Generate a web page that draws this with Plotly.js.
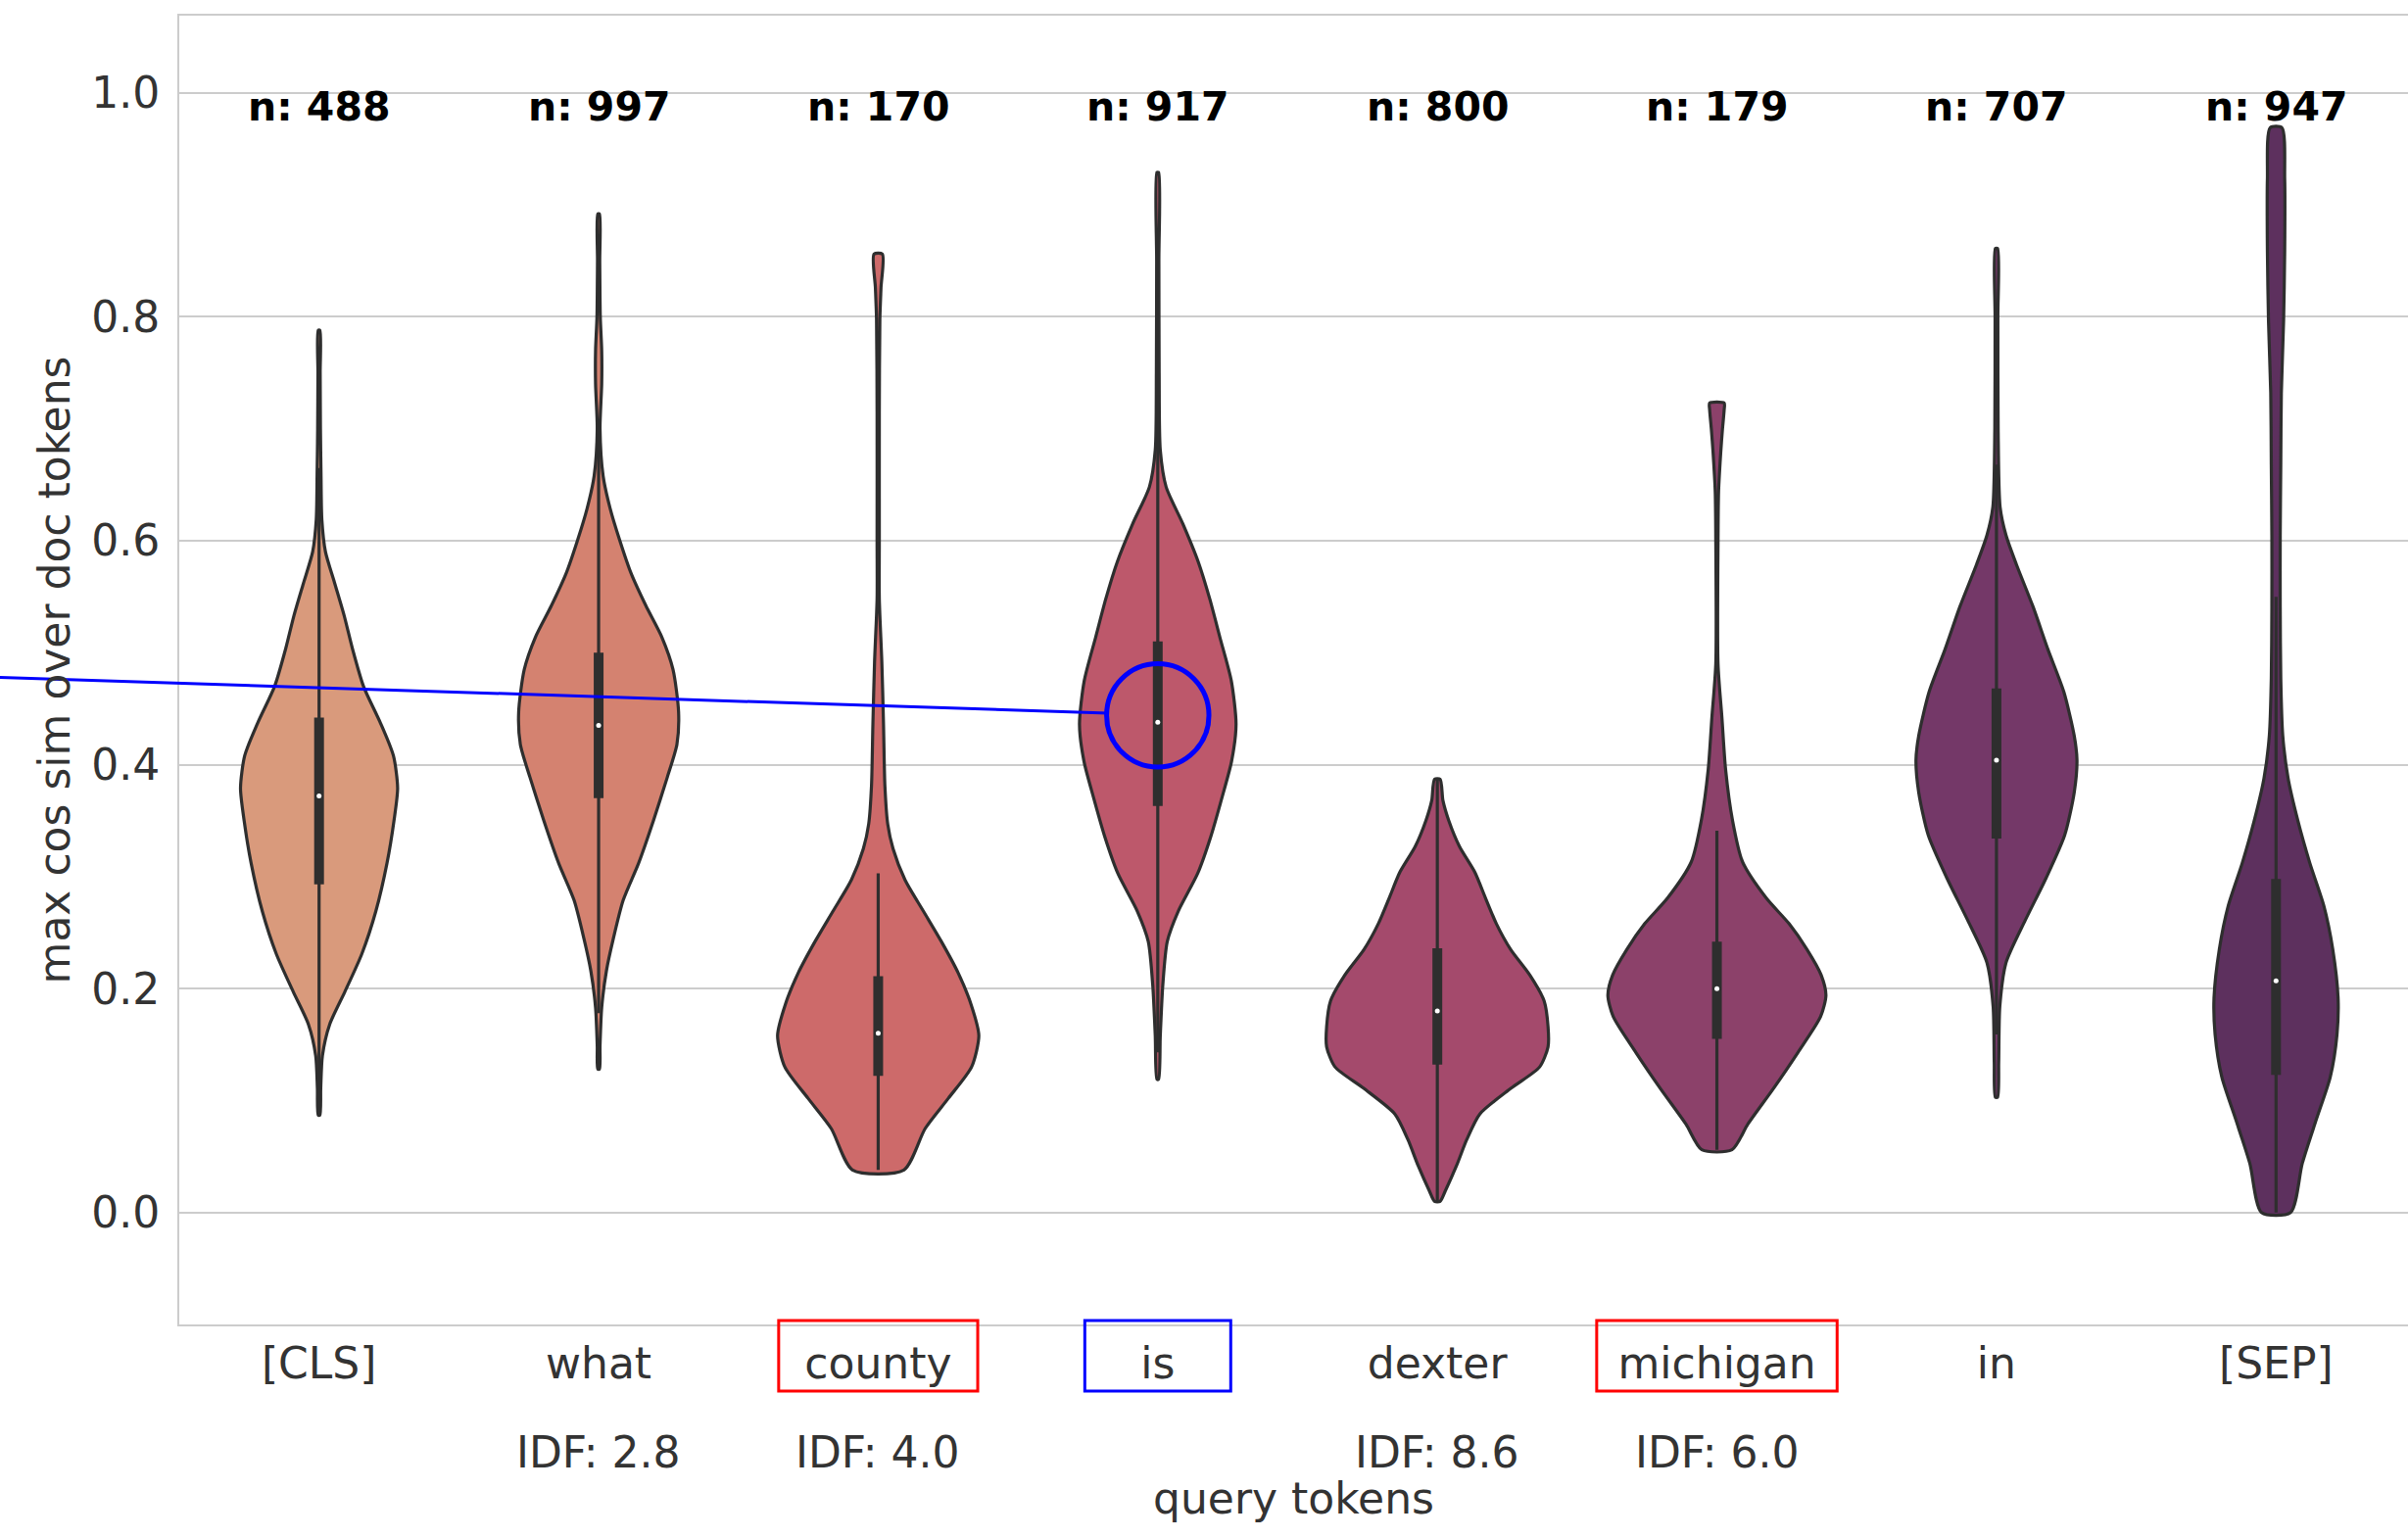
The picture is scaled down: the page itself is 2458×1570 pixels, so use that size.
<!DOCTYPE html>
<html>
<head>
<meta charset="utf-8">
<script src="https://cdn.plot.ly/plotly-3.0.1.min.js"></script>
<style>html,body{margin:0;padding:0;background:#fff;}#chart{width:2458px;height:1570px;}</style>
</head>
<body>
<div id="chart"></div>
<script>
// ---- data ----
const categories = ['[CLS]', 'what', 'county', 'is', 'dexter', 'michigan', 'in', '[SEP]'];
const counts = [488, 997, 170, 917, 800, 179, 707, 947];
const idfLabels = ['', 'IDF: 2.8', 'IDF: 4.0', '', 'IDF: 8.6', 'IDF: 6.0', '', ''];
const colors = ['#d99a7c', '#d48270', '#cd6a6a', '#bd586b', '#a44a6c', '#8c416a', '#743868', '#5d305e'];

// violin profiles: y values (top -> bottom) and half widths (category units)
const clsY = [0.788, 0.75, 0.70, 0.66, 0.619, 0.590, 0.562, 0.533, 0.504, 0.47, 0.437, 0.408, 0.379, 0.35, 0.312, 0.269, 0.231, 0.197, 0.168, 0.14, 0.111, 0.087];
const clsW = [0.003, 0.004, 0.005, 0.007, 0.010, 0.023, 0.056, 0.09, 0.119, 0.159, 0.22, 0.266, 0.281, 0.268, 0.243, 0.203, 0.153, 0.092, 0.038, 0.012, 0.006, 0.003];
const whatY = [0.892, 0.85, 0.80, 0.77, 0.74, 0.70, 0.658, 0.629, 0.60, 0.571, 0.542, 0.514, 0.485, 0.447, 0.418, 0.389, 0.35, 0.312, 0.279, 0.245, 0.216, 0.183, 0.149, 0.128];
const whatW = [0.003, 0.004, 0.006, 0.011, 0.011, 0.005, 0.016, 0.041, 0.076, 0.116, 0.169, 0.226, 0.266, 0.286, 0.28, 0.246, 0.196, 0.143, 0.088, 0.053, 0.028, 0.011, 0.005, 0.003];
const countyY = [0.856, 0.826, 0.798, 0.715, 0.60, 0.548, 0.492, 0.436, 0.381, 0.347, 0.325, 0.297, 0.269, 0.242, 0.214, 0.186, 0.158, 0.13, 0.102, 0.075, 0.038];
const countyW = [0.015, 0.010, 0.006, 0.004, 0.004, 0.004, 0.013, 0.019, 0.024, 0.034, 0.053, 0.096, 0.162, 0.226, 0.286, 0.332, 0.36, 0.334, 0.251, 0.168, 0.092];
const isY = [0.929, 0.85, 0.75, 0.681, 0.648, 0.615, 0.581, 0.548, 0.514, 0.475, 0.436, 0.403, 0.37, 0.336, 0.303, 0.269, 0.242, 0.203, 0.158, 0.119];
const isW = [0.003, 0.004, 0.005, 0.009, 0.03, 0.09, 0.145, 0.186, 0.222, 0.263, 0.28, 0.264, 0.229, 0.19, 0.143, 0.073, 0.034, 0.018, 0.009, 0.003];
const dexterY = [0.387, 0.368, 0.35, 0.327, 0.304, 0.281, 0.258, 0.235, 0.212, 0.189, 0.166, 0.148, 0.13, 0.111, 0.088, 0.065, 0.042, 0.019, 0.01];
const dexterW = [0.01, 0.02, 0.041, 0.079, 0.134, 0.172, 0.211, 0.262, 0.331, 0.382, 0.396, 0.396, 0.366, 0.264, 0.152, 0.105, 0.069, 0.028, 0.01];
const michiganY = [0.723, 0.717, 0.70, 0.68, 0.644, 0.60, 0.49, 0.442, 0.396, 0.35, 0.313, 0.281, 0.258, 0.235, 0.212, 0.194, 0.175, 0.143, 0.111, 0.079, 0.056];
const michiganW = [0.026, 0.026, 0.02, 0.014, 0.006, 0.004, 0.004, 0.018, 0.031, 0.056, 0.092, 0.176, 0.258, 0.322, 0.373, 0.39, 0.371, 0.29, 0.203, 0.111, 0.054];
const inY = [0.861, 0.80, 0.70, 0.63, 0.605, 0.579, 0.541, 0.503, 0.465, 0.426, 0.404, 0.375, 0.337, 0.299, 0.261, 0.223, 0.184, 0.134, 0.103];
const inW = [0.004, 0.005, 0.006, 0.013, 0.034, 0.071, 0.131, 0.184, 0.241, 0.278, 0.288, 0.278, 0.244, 0.178, 0.103, 0.034, 0.012, 0.008, 0.004];
const sepY = [0.969, 0.923, 0.859, 0.796, 0.732, 0.668, 0.605, 0.541, 0.477, 0.426, 0.388, 0.35, 0.312, 0.274, 0.235, 0.191, 0.159, 0.121, 0.083, 0.044, 0.0];
const sepW = [0.021, 0.031, 0.031, 0.027, 0.019, 0.017, 0.015, 0.015, 0.017, 0.024, 0.043, 0.078, 0.121, 0.171, 0.203, 0.222, 0.218, 0.194, 0.144, 0.094, 0.052];

// inner box statistics
const q1 = [0.293, 0.37, 0.122, 0.363, 0.132, 0.155, 0.334, 0.123];
const medians = [0.372, 0.435, 0.16, 0.438, 0.18, 0.2, 0.404, 0.207];
const q3 = [0.442, 0.5, 0.211, 0.51, 0.236, 0.242, 0.468, 0.298];
const whiskerLo = [0.087, 0.178, 0.038, 0.143, 0.01, 0.056, 0.159, 0.0];
const whiskerHi = [0.665, 0.695, 0.303, 0.73, 0.387, 0.341, 0.668, 0.55];

// highlighted tokens
const circledToken = 'is';
const circledValue = 0.444;

// ---- build figure ----
const profilesY = [clsY, whatY, countyY, isY, dexterY, michiganY, inY, sepY];
const profilesW = [clsW, whatW, countyW, isW, dexterW, michiganW, inW, sepW];
const FONT = 'DejaVu Sans, Liberation Sans, sans-serif';
const TEXT = '#333333';
const INNER = '#2e2e2e';

const traces = [];
categories.forEach((c, i) => {
  const ys = profilesY[i], ws = profilesW[i];
  const x = [], y = [];
  for (let k = 0; k < ys.length; k++) { x.push(i + ws[k]); y.push(ys[k]); }
  for (let k = ys.length - 1; k >= 0; k--) { x.push(i - ws[k]); y.push(ys[k]); }
  x.push(x[0]); y.push(y[0]);
  traces.push({
    type: 'scatter', mode: 'lines', x: x, y: y, fill: 'toself',
    fillcolor: colors[i], line: {color: INNER, width: 3.2, shape: 'spline', smoothing: 0.7},
    hoverinfo: 'skip', showlegend: false, name: c
  });
});
// whiskers
const wx = [], wy = [];
categories.forEach((c, i) => { wx.push(i, i, null); wy.push(whiskerLo[i], whiskerHi[i], null); });
traces.push({type: 'scatter', mode: 'lines', x: wx, y: wy, line: {color: INNER, width: 3.2}, hoverinfo: 'skip', showlegend: false});
// boxes
const bx = [], by = [];
categories.forEach((c, i) => { bx.push(i, i, null); by.push(q1[i], q3[i], null); });
traces.push({type: 'scatter', mode: 'lines', x: bx, y: by, line: {color: INNER, width: 10}, hoverinfo: 'skip', showlegend: false});
// medians
traces.push({type: 'scatter', mode: 'markers', x: categories.map((c, i) => i), y: medians,
  marker: {color: '#ffffff', size: 5, line: {width: 0}}, hoverinfo: 'skip', showlegend: false});

const xRange = [-0.5, 7.472];
const yRange = [-0.1, 1.069];

const annotations = [];
categories.forEach((c, i) => {
  annotations.push({x: i, y: 0.988, xref: 'x', yref: 'y', text: '<b>n: ' + counts[i] + '</b>',
    showarrow: false, xanchor: 'center', yanchor: 'middle', font: {family: FONT, size: 41, color: '#000000'}});
  if (idfLabels[i]) {
    annotations.push({x: i, y: -0.098, xref: 'x', yref: 'paper', text: idfLabels[i],
      showarrow: false, xanchor: 'center', yanchor: 'middle', font: {family: FONT, size: 44, color: TEXT}});
  }
});

const shapes = [];
function boxAround(tok, color, hw) {
  const i = categories.indexOf(tok);
  shapes.push({type: 'rect', xref: 'x', yref: 'paper', x0: i - hw, x1: i + hw, y0: 0.003, y1: -0.0509,
    line: {color: color, width: 3}, fillcolor: 'rgba(0,0,0,0)'});
}
boxAround('county', '#ff0000', 0.356);
boxAround('michigan', '#ff0000', 0.43);
boxAround('is', '#0000ff', 0.261);
const ci = categories.indexOf(circledToken);
const rx = 0.183, ry = 0.0461;
shapes.push({type: 'circle', xref: 'x', yref: 'y', x0: ci - rx, x1: ci + rx, y0: circledValue - ry, y1: circledValue + ry,
  line: {color: '#0000ff', width: 5}, fillcolor: 'rgba(0,0,0,0)'});
// connector line from the left edge of the figure to the circle
function toPaperX(v) { return (v - xRange[0]) / (xRange[1] - xRange[0]); }
function toPaperY(v) { return (v - yRange[0]) / (yRange[1] - yRange[0]); }
shapes.push({type: 'line', xref: 'paper', yref: 'paper', x0: -0.0807, y0: toPaperY(0.478),
  x1: toPaperX(ci - rx) + 0.0005, y1: toPaperY(circledValue + 0.002), line: {color: '#0000ff', width: 3}});

const layout = {
  width: 2458, height: 1570,
  margin: {l: 183, r: 0, t: 16, b: 218, pad: 0},
  paper_bgcolor: '#ffffff', plot_bgcolor: '#ffffff',
  showlegend: false,
  font: {family: FONT, color: TEXT, size: 44},
  xaxis: {
    range: xRange, tickvals: categories.map((c, i) => i), ticktext: categories,
    showgrid: false, zeroline: false, ticks: '', showline: true, mirror: true,
    linecolor: '#cccccc', linewidth: 2, tickfont: {family: FONT, size: 44, color: TEXT},
    ticklabelstandoff: 0,
    title: {text: 'query tokens', font: {family: FONT, size: 44, color: TEXT}, standoff: 98}
  },
  yaxis: {
    range: yRange, tickvals: [0, 0.2, 0.4, 0.6, 0.8, 1.0], tickformat: '.1f',
    showgrid: true, gridcolor: '#cccccc', gridwidth: 2, zeroline: false, ticks: '',
    showline: true, mirror: false, linecolor: '#cccccc', linewidth: 2,
    tickfont: {family: FONT, size: 44, color: TEXT}, ticklabelstandoff: 9,
    title: {text: 'max cos sim over doc tokens', font: {family: FONT, size: 44, color: TEXT}, standoff: 8}
  },
  annotations: annotations,
  shapes: shapes
};

Plotly.newPlot('chart', traces, layout, {displayModeBar: false, staticPlot: true});
</script>
</body>
</html>
